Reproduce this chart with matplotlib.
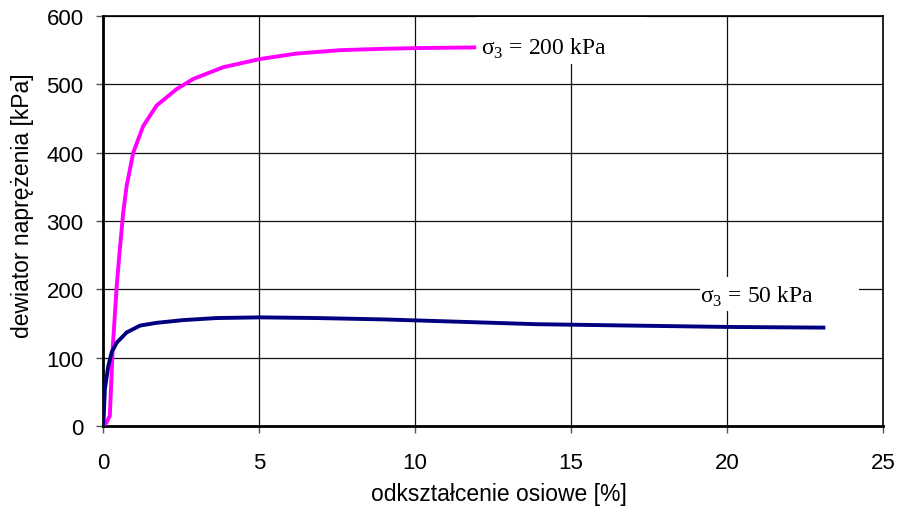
import numpy as np
import matplotlib.pyplot as plt
from matplotlib.patches import Rectangle

plt.rcParams['font.family'] = ['Liberation Sans', 'DejaVu Sans']
plt.rcParams['mathtext.fontset'] = 'custom'
plt.rcParams['mathtext.rm'] = 'Liberation Serif'

# odkształcenie osiowe [%] vs dewiator naprężenia [kPa]
eps_200 = [0.0, 0.1, 0.22, 0.31, 0.44, 0.54, 0.65, 0.76, 0.97, 1.29, 1.72, 2.36,
           2.9, 3.85, 5.03, 6.2, 7.6, 9.0, 10.0, 11.9]
q_200 = [0, 4, 15, 113, 205, 259, 313, 352, 400, 439, 469, 493,
         508, 525, 537, 545, 550, 552, 553, 554]

eps_50 = [0.0, 0.02, 0.06, 0.17, 0.28, 0.44, 0.76, 1.19, 1.72, 2.57, 3.64, 5.03,
          6.85, 9.0, 11.12, 13.9, 16.9, 20.0, 23.09]
q_50 = [0, 10, 54, 88, 108, 122, 137, 147, 151, 155, 158, 159,
        158, 156, 153, 149, 147, 145, 144]

x_ticks = [0, 5, 10, 15, 20, 25]
y_ticks = [0, 100, 200, 300, 400, 500, 600]

fig = plt.figure(figsize=(9.01, 5.10), dpi=100)
ax = fig.add_axes([0.1143, 0.1627, 0.8657, 0.804])

ax.plot(eps_200, q_200, color='#ff00ff', lw=2.8, zorder=3)
ax.plot(eps_50, q_50, color='#000080', lw=2.8, zorder=3)

ax.set_xlim(0, 25)
ax.set_ylim(0, 600)
ax.set_xticks(x_ticks)
ax.set_yticks(y_ticks)
ax.grid(True, color='#111111', lw=0.9)
ax.set_axisbelow(True)
ax.tick_params(direction='out', length=5, width=1, color='#555555',
               labelsize=16)
ax.tick_params(axis='x', pad=14)
ax.tick_params(axis='y', pad=9)
for s in ax.spines.values():
    s.set_linewidth(1.2)
ax.spines['left'].set_linewidth(2)
ax.spines['bottom'].set_linewidth(2)

ax.set_xlabel('odkształcenie osiowe [%]', fontsize=16.5)
ax.set_ylabel('dewiator naprężenia [kPa]', fontsize=16.5)
ax.xaxis.set_label_coords(0.507, -0.137)
ax.yaxis.set_label_coords(-0.088, 0.541)

# white label backgrounds that break the grid, as in the original
ax.add_patch(Rectangle((11.95, 530), 5.5, 68, facecolor='white',
                       edgecolor='none', zorder=1.5))
ax.add_patch(Rectangle((19.13, 168), 5.1, 50, facecolor='white',
                       edgecolor='none', zorder=1.5))

ax.text(12.1, 553, r'σ$_\mathrm{3}$ = 200 kPa', fontsize=17, va='center',
        family='Liberation Serif', zorder=4)
ax.text(19.13, 191, r'σ$_\mathrm{3}$ = 50 kPa', fontsize=17, va='center',
        family='Liberation Serif', zorder=4)

fig.savefig('out.png', dpi=100)
